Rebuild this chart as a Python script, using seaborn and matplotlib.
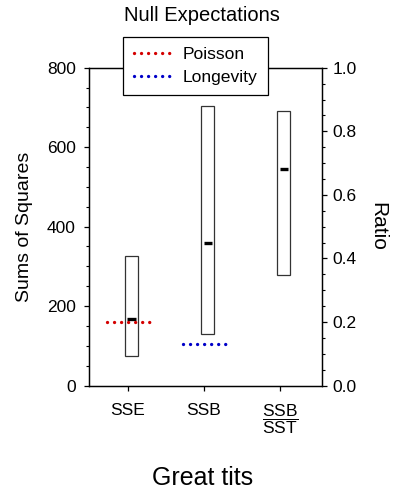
import numpy as np
import matplotlib
matplotlib.use("Agg")
import matplotlib.pyplot as plt
import seaborn as sns
from matplotlib.ticker import MultipleLocator

# data
categories = ["SSE", "SSB", r"$\dfrac{\mathrm{SSB}}{\mathrm{SST}}$"]
box_low = [75, 130]          # sums of squares (left axis)
box_high = [326, 704]
box_median = [167, 358]
ratio_low = 0.348            # SSB/SST (right axis)
ratio_high = 0.864
ratio_median = 0.681
poisson = 161                # null expectation for SSE
longevity = 104              # null expectation for SSB


def main():
	sns.set_style("ticks")
	plt.rcParams["font.family"] = ["Liberation Sans", "DejaVu Sans"]
	plt.rcParams["mathtext.fontset"] = "custom"
	plt.rcParams["mathtext.rm"] = "Liberation Sans"
	plt.rcParams["text.color"] = "black"
	plt.rcParams["axes.labelcolor"] = "black"

	fig = plt.figure(figsize=(3.94, 4.94), dpi=100)
	ax = fig.add_axes([0.2259, 0.2196, 0.5914, 0.6433])
	ax2 = ax.twinx()

	pos = np.arange(1, 4)
	off = 0.05
	w = 0.17
	mw = 0.11

	# floating boxes on the left axis
	ax.bar(pos[:2] + off, np.array(box_high) - np.array(box_low), bottom=box_low,
		width=w, facecolor="white", edgecolor="#333333", linewidth=0.9, zorder=2)
	ax.hlines(box_median, pos[:2] + off - mw / 2, pos[:2] + off + mw / 2,
		color="black", linewidth=2.4, zorder=3)

	# null expectations
	dots = dict(linewidth=2.4, linestyle=(0, (0.01, 2.1)), dash_capstyle="round", zorder=4)
	lp, = ax.plot([pos[0] + off - 0.32, pos[0] + off + 0.32], [poisson, poisson],
		color="#d40000", label="Poisson", **dots)
	ll, = ax.plot([pos[1] + off - 0.32, pos[1] + off + 0.32], [longevity, longevity],
		color="#0000c8", label="Longevity", **dots)

	# ratio box on the right axis
	ax2.bar([pos[2] + off], [ratio_high - ratio_low], bottom=[ratio_low],
		width=w, facecolor="white", edgecolor="#333333", linewidth=0.9, zorder=2)
	ax2.hlines([ratio_median], pos[2] + off - mw / 2, pos[2] + off + mw / 2,
		color="black", linewidth=2.4, zorder=3)

	ax.set_xlim(0.49, 3.55)
	ax.set_ylim(0, 800)
	ax2.set_ylim(0, 1.0)

	ax.set_xticks(pos)
	ax.set_xticklabels(categories)
	ax.yaxis.set_major_locator(MultipleLocator(200))
	ax.yaxis.set_minor_locator(MultipleLocator(50))
	ax2.yaxis.set_major_locator(MultipleLocator(0.2))
	ax2.yaxis.set_minor_locator(MultipleLocator(0.05))
	ax2.yaxis.set_major_formatter(matplotlib.ticker.FormatStrFormatter("%.1f"))

	for a in (ax, ax2):
		for s in a.spines.values():
			s.set_visible(True)
			s.set_color("black")
			s.set_linewidth(0.9)
	ax.tick_params(axis="y", which="major", direction="out", length=3.5, width=0.9,
		labelsize=12.5, pad=6, colors="black")
	ax.tick_params(axis="y", which="minor", direction="out", length=2, width=0.8, colors="black")
	ax.tick_params(axis="x", direction="out", length=3.5, width=0.9, labelsize=12.5,
		pad=9, colors="black")
	ax2.tick_params(axis="y", which="major", direction="out", length=3.5, width=0.9,
		labelsize=12.5, pad=4, colors="black")
	ax2.tick_params(axis="y", which="minor", direction="out", length=2, width=0.8, colors="black")

	ax.set_ylabel("Sums of Squares", fontsize=14, labelpad=10)
	ax2.set_ylabel("Ratio", fontsize=15, rotation=-90, labelpad=22)

	fig.text(0.512, 0.968, "Null Expectations", fontsize=14.5, ha="center", va="center")
	fig.text(0.514, 0.032, "Great tits", fontsize=18, ha="center", va="center")

	leg = ax2.legend(handles=[lp, ll], loc="upper left", bbox_to_anchor=(0.147, 1.0975),
		borderaxespad=0, fontsize=12.6, frameon=True, fancybox=False, framealpha=1,
		edgecolor="black", handlelength=2.2, handletextpad=0.6, borderpad=0.6,
		labelspacing=0.4)
	leg.get_frame().set_linewidth(0.9)
	leg.set_zorder(10)

	fig.savefig("out.png", dpi=100)


if __name__ == "__main__":
	main()
